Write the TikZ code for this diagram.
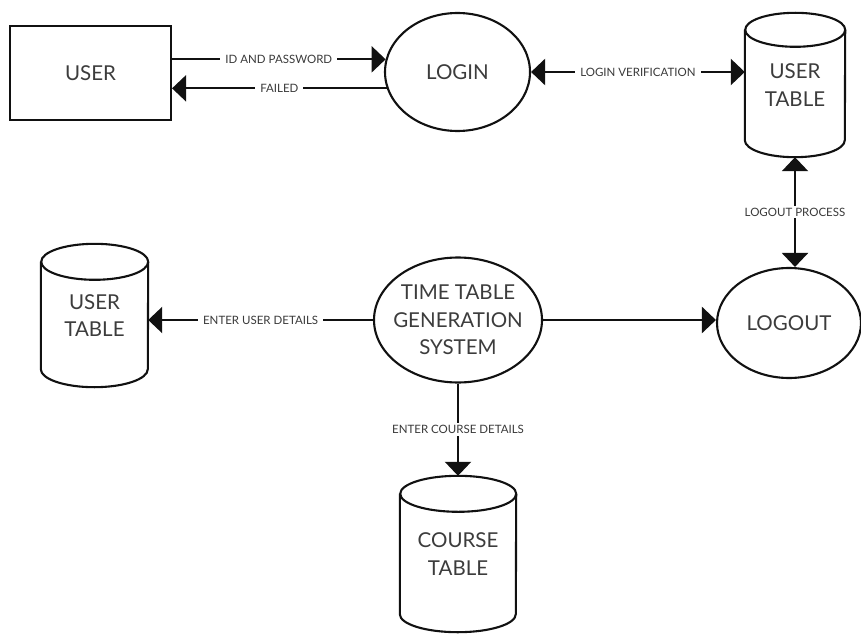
\documentclass[tikz,border=0pt]{standalone}
\usepackage{fontspec}
\setmainfont{Lato}
\usetikzlibrary{arrows.meta,shapes.geometric}
\definecolor{ink}{HTML}{111111}
\definecolor{txt}{HTML}{3C3C3C}
\definecolor{lbl}{HTML}{3A3A3A}
\tikzset{
  bigtext/.style={text=txt, font=\fontsize{20.5}{27.5}\selectfont, align=center, inner sep=0pt},
  process/.style={ellipse, draw=ink, line width=2.1pt, inner sep=0pt},
  entity/.style={rectangle, draw=ink, line width=2.1pt, bigtext},
  store/.style={rectangle, bigtext},
  storeline/.style={draw=ink, line width=2.1pt, line join=round},
  tip/.tip={Triangle[length=14pt,width=26pt]},
  flow/.style={draw=ink, line width=2.3pt, -tip},
  twoway/.style={draw=ink, line width=2.3pt, tip-tip},
  lab/.style={fill=white, text=lbl, font=\fontsize{11.5}{13}\selectfont, inner xsep=5pt, inner ysep=2pt},
}
% data store: name, centre x, centre y, width, height, cap radius, text
\newcommand\datastore[7]{%
  \node[store, minimum width=#4pt, minimum height=#5pt] (#1) at (#2,#3) {#7};
  \draw[storeline] ([yshift=-#6pt]#1.north west) -- ([yshift=#6pt]#1.south west)
    arc[start angle=180, end angle=360, x radius=#4pt/2, y radius=#6pt]
    -- ([yshift=-#6pt]#1.north east)
    arc[start angle=0, end angle=180, x radius=#4pt/2, y radius=#6pt] -- cycle;
  \draw[storeline] ([yshift=-#6pt]#1.north east)
    arc[start angle=0, end angle=-180, x radius=#4pt/2, y radius=#6pt];
}
\begin{document}
\begin{tikzpicture}[x=1pt,y=1pt]
\useasboundingbox (0,0) rectangle (861,633);

% external entity and processes
\node[entity, minimum width=161pt, minimum height=94pt] (user) at (90.5,560) {USER};
\node[process, minimum width=145pt, minimum height=118pt] (login) at (457.5,561) {};
\node[bigtext] (login-t) at (login) {LOGIN};
\node[process, minimum width=168pt, minimum height=125pt] (ttgs) at (458,313) {};
\node[bigtext] (ttgs-t) at (ttgs) {TIME TABLE\\GENERATION\\SYSTEM};
\node[process, minimum width=144pt, minimum height=110pt] (logout) at (789,310) {};
\node[bigtext] (logout-t) at (logout) {LOGOUT};

% data stores
\datastore{utab}{795}{548}{100}{144}{17}{USER\\TABLE}
\datastore{utabb}{94.5}{317.5}{107}{143}{18}{USER\\TABLE}
\datastore{ctab}{458}{79}{116}{156}{18}{COURSE\\TABLE}

% data flows
\draw[flow] (login.170 -| user.east) -- node[lab] {ID AND PASSWORD} (login.170);
\draw[flow] (login.193) -- node[lab] {FAILED} (login.193 -| user.east);
\draw[twoway] (login.east) -- node[lab] {LOGIN VERIFICATION} (login.east -| utab.west);
\draw[twoway] (utab.south) -- node[lab] {LOGOUT PROCESS} (utab.south |- logout.north);
\draw[flow] (ttgs.east) -- (ttgs.east -| logout.west);
\draw[flow] (ttgs.west) -- node[lab] {ENTER USER DETAILS} (ttgs.west -| utabb.east);
\draw[flow] (ttgs.south) -- node[lab] {ENTER COURSE DETAILS} (ttgs.south |- ctab.north);
\end{tikzpicture}
\end{document}
